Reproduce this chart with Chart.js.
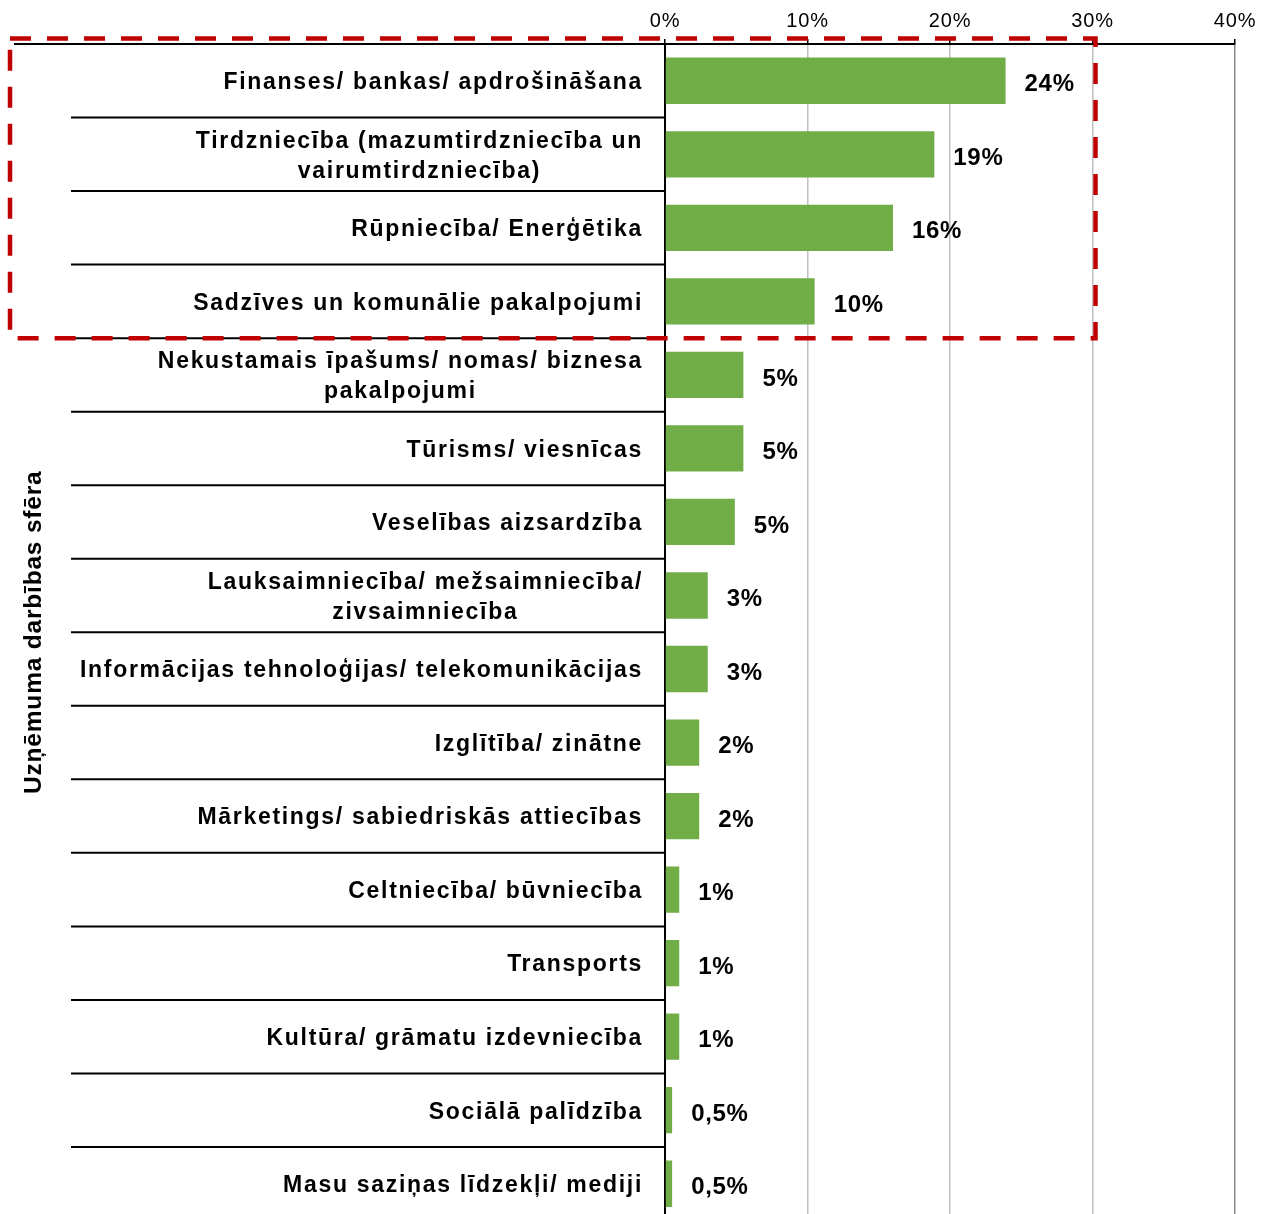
<!DOCTYPE html>
<html>
<head>
<meta charset="utf-8">
<script src="https://cdn.jsdelivr.net/npm/chart.js@4.4.1/dist/chart.umd.min.js"></script>
<style>
html, body { margin: 0; padding: 0; overflow: hidden; background: #fff; }
canvas { display: block; }
</style>
</head>
<body>
<canvas id="sectorChart" width="1262" height="1222"></canvas>
<script>
const categories = [
    ['Finanses/ bankas/ apdrošināšana'],
    ['Tirdzniecība (mazumtirdzniecība un', 'vairumtirdzniecība)'],
    ['Rūpniecība/ Enerģētika'],
    ['Sadzīves un komunālie pakalpojumi'],
    ['Nekustamais īpašums/ nomas/ biznesa', 'pakalpojumi'],
    ['Tūrisms/ viesnīcas'],
    ['Veselības aizsardzība'],
    ['Lauksaimniecība/ mežsaimniecība/', 'zivsaimniecība'],
    ['Informācijas tehnoloģijas/ telekomunikācijas'],
    ['Izglītība/ zinātne'],
    ['Mārketings/ sabiedriskās attiecības'],
    ['Celtniecība/ būvniecība'],
    ['Transports'],
    ['Kultūra/ grāmatu izdevniecība'],
    ['Sociālā palīdzība'],
    ['Masu saziņas līdzekļi/ mediji']
];
const shares = [23.9, 18.9, 16.0, 10.5, 5.5, 5.5, 4.9, 3.0, 3.0, 2.4, 2.4, 1.0, 1.0, 1.0, 0.5, 0.5];
const shareLabels = ['24%', '19%', '16%', '10%', '5%', '5%', '5%', '3%', '3%', '2%', '2%', '1%', '1%', '1%', '0,5%', '0,5%'];
const axisTicks = [0, 10, 20, 30, 40];
const highlightedRows = 4;

const fontFamily = '"Liberation Sans", Arial, sans-serif';

// category labels, separators, value labels and the red frame
const sheetDecor = {
    id: 'sheetDecor',
    beforeDraw(chart) {
        chart.ctx.letterSpacing = '0.8px';
    },
    afterDraw(chart) {
        const { ctx, chartArea, scales: { x, y } } = chart;
        ctx.save();

        ctx.strokeStyle = '#000';
        ctx.lineWidth = 2;
        ctx.beginPath();
        ctx.moveTo(14, chartArea.top);
        ctx.lineTo(chartArea.left, chartArea.top);
        for (let i = 1; i < categories.length; i++) {
            const yy = (y.getPixelForValue(i - 1) + y.getPixelForValue(i)) / 2;
            ctx.moveTo(71, yy);
            ctx.lineTo(chartArea.left, yy);
        }
        ctx.stroke();

        ctx.font = 'bold 23px ' + fontFamily;
        ctx.letterSpacing = '1.7px';
        ctx.fillStyle = '#000';
        ctx.textBaseline = 'middle';
        ctx.textAlign = 'center';
        const lineH = 30;
        categories.forEach((lines, i) => {
            const cy = y.getPixelForValue(i) + 2;
            const w = Math.max(...lines.map(l => ctx.measureText(l).width));
            const cx = chartArea.left - 22 - w / 2;
            lines.forEach((l, j) => {
                ctx.fillText(l, cx, cy + (j - (lines.length - 1) / 2) * lineH);
            });
        });

        ctx.font = 'bold 24px ' + fontFamily;
        ctx.letterSpacing = '0.7px';
        ctx.textAlign = 'left';
        chart.getDatasetMeta(0).data.forEach((bar, i) => {
            ctx.fillText(shareLabels[i], bar.x + 19, bar.y + 4);
        });

        const boxTop = chartArea.top - 5.5;
        const boxBottom = (y.getPixelForValue(highlightedRows - 1) + y.getPixelForValue(highlightedRows)) / 2;
        const boxRight = x.getPixelForValue(30) + 3;
        ctx.strokeStyle = '#c00000';
        ctx.lineWidth = 4.5;
        ctx.setLineDash([21, 16]);
        ctx.strokeRect(10, boxTop, boxRight - 10, boxBottom - boxTop);
        ctx.restore();
    }
};

const ctx = document.getElementById('sectorChart').getContext('2d');

new Chart(ctx, {
    type: 'bar',
    data: {
        labels: categories,
        datasets: [{
            data: shares,
            backgroundColor: '#70ad47',
            barPercentage: 0.63,
            categoryPercentage: 1.0
        }]
    },
    options: {
        indexAxis: 'y',
        responsive: false,
        animation: false,
        layout: { padding: { top: 0, right: 27, bottom: 1.5, left: 0 } },
        plugins: {
            legend: { display: false },
            tooltip: { enabled: false }
        },
        scales: {
            x: {
                position: 'top',
                min: axisTicks[0],
                max: axisTicks[axisTicks.length - 1],
                afterFit(scale) { scale.height = 44; },
                afterBuildTicks(scale) { scale.ticks = axisTicks.map(v => ({ value: v })); },
                ticks: {
                    callback: v => v + '%',
                    color: '#000',
                    font: { family: fontFamily, size: 20 },
                    padding: 6,
                    maxRotation: 0
                },
                grid: {
                    color: c => c.tick && c.tick.value === 40 ? '#8c8c8c' : (c.tick && c.tick.value === 0 ? 'rgba(0,0,0,0)' : '#c0c0c0'),
                    lineWidth: 1.5,
                    tickLength: 5,
                    tickColor: '#000',
                    tickWidth: 1.5
                },
                border: { display: true, color: '#000', width: 2 }
            },
            y: {
                afterFit(scale) { scale.width = 665; },
                ticks: { display: false },
                grid: { display: false },
                border: { display: true, color: '#000', width: 2 },
                title: {
                    display: true,
                    text: 'Uzņēmuma darbības sfēra',
                    color: '#000',
                    font: { family: fontFamily, size: 24.5, weight: 'bold' },
                    padding: { top: 20, bottom: 0 }
                }
            }
        }
    },
    plugins: [sheetDecor]
});
</script>
</body>
</html>
